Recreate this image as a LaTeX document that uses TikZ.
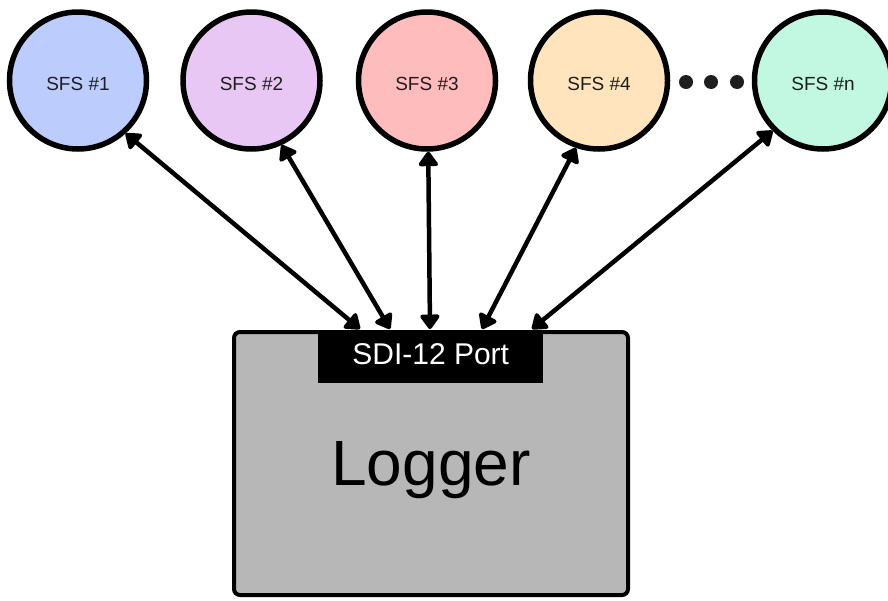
\documentclass[tikz,border=0pt]{standalone}
\usepackage{fontspec}
\setmainfont{Liberation Sans}
\usetikzlibrary{arrows.meta}
\definecolor{cone}{RGB}{188,204,252}
\definecolor{ctwo}{RGB}{233,199,244}
\definecolor{cthree}{RGB}{255,188,188}
\definecolor{cfour}{RGB}{255,228,189}
\definecolor{cn}{RGB}{194,247,226}
\definecolor{loggray}{RGB}{183,183,183}
\definecolor{txt}{RGB}{30,30,30}
\begin{document}
\begin{tikzpicture}[x=1pt,y=-1pt,
  sfs/.style={circle, draw=black, line width=5.5pt, minimum size=137pt, inner sep=0pt,
    font=\fontsize{19}{22}\selectfont, text=txt, text height=19pt, text depth=0pt},
  link/.style={line width=4.5pt,
    {Triangle[length=16pt,width=22pt,round]}-{Triangle[length=16pt,width=22pt,round]}},
  dotc/.style={circle, fill=txt, minimum size=14pt, inner sep=0pt}]
\useasboundingbox (0,0) rectangle (888,600);
\clip (0,0) rectangle (888,600);
% sensors
\node[sfs, fill=cone]   (s1) at (78,80.5)  {SFS \#1};
\node[sfs, fill=ctwo]   (s2) at (251.5,80.5) {SFS \#2};
\node[sfs, fill=cthree] (s3) at (427,80.5) {SFS \#3};
\node[sfs, fill=cfour]  (s4) at (599,80.5) {SFS \#4};
\node[sfs, fill=cn]     (sn) at (823,80.5) {SFS \#n};
% dots
\node[dotc] (d1) at (686,82) {};
\node[dotc] (d2) at (711,82) {};
\node[dotc] (d3) at (737,82) {};
% logger
\node[draw=black, line width=4pt, fill=loggray, rounded corners=6pt,
  minimum width=394pt, minimum height=263pt, inner sep=0pt, anchor=north west,
  font=\fontsize{64}{70}\selectfont, text depth=0pt] (logger) at (232,330) {Logger};
\node[fill=black, text=white, minimum width=225pt, minimum height=53pt, inner sep=0pt,
  anchor=north west, font=\fontsize{30}{34}\selectfont, text depth=6pt] (port) at (318,330) {SDI-12 Port};
% connection points on the port
\coordinate (q1) at (360,329);
\coordinate (q2) at (390,329);
\coordinate (q3) at (430,329);
\coordinate (q4) at (482,329);
\coordinate (q5) at (532,329);
\draw[link] (q1) -- (s1.-48.3);
\draw[link] (q2) -- (s2.-65.2);
\draw[link] (q3) -- (s3.-89);
\draw[link] (q4) -- (s4.-109.4);
\draw[link] (q5) -- (sn.-135.6);
\end{tikzpicture}
\end{document}
